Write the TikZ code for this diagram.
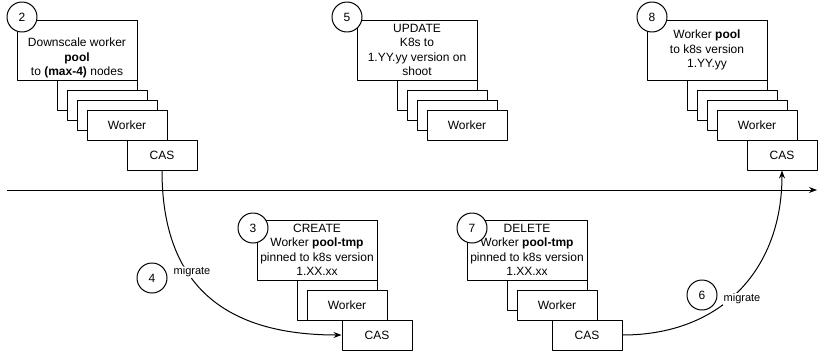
\documentclass[tikz,border=0pt]{standalone}
\usepackage{fontspec}
\setmainfont{Liberation Sans}
\usetikzlibrary{arrows.meta}
\begin{document}
\begin{tikzpicture}[x=1pt, y=-1pt, line width=1pt, line join=round,
    font=\fontsize{12}{14.5}\selectfont, >={Stealth[length=8pt,width=6pt]},
    mainbox/.style={draw, fill=white, minimum width=120pt, minimum height=60pt, align=center, inner sep=0pt},
    stackbox/.style={draw, fill=white, minimum width=80pt, minimum height=30pt, inner sep=0pt},
    casbox/.style={stackbox, minimum width=70pt},
    stepnum/.style={draw, circle, fill=white, minimum size=30pt, inner sep=0pt},
    edgelabel/.style={fill=white, inner sep=1pt, font=\fontsize{11}{13}\selectfont}]
  \useasboundingbox (0,0) rectangle (826,351);
  \path (7,190) coordinate (t0)
        (817,190) coordinate (t1);
  % timeline
  \draw[->] (t0) -- (t1);
  % top row: downscale, update, final pool
  \node[mainbox] (main2) at (77,50) {};
  \node[align=center, inner sep=0pt] (main2txt) at (77,58) {Downscale worker\\\textbf{pool}\\to \textbf{(max-4)} nodes};
  \node[mainbox] (main5) at (417,50) {UPDATE\\K8s to\\1.YY.yy version on\\shoot};
  \node[mainbox] (main8) at (707,50) {Worker \textbf{pool}\\to k8s version\\1.YY.yy};
  \foreach \g/\dx in {2/0, 5/340, 8/630} {
    \foreach \i in {0,1,2}
      \node[stackbox] (s\g-\i) at (97+\dx+10*\i, 95+10*\i) {};
    \node[stackbox] (worker\g) at (127+\dx, 125) {Worker};
  }
  \node[casbox] (cas2) at (162,155) {CAS};
  \node[casbox] (cas8) at (782,155) {CAS};
  % bottom row: temporary pool
  \node[mainbox] (main3) at (317,250) {CREATE\\Worker \textbf{pool-tmp}\\pinned to k8s version\\1.XX.xx};
  \node[stackbox, minimum height=40pt] (s3) at (337,300) {};
  \node[stackbox] (worker3) at (347,305) {Worker};
  \node[casbox] (cas3) at (377,335) {CAS};
  \node[mainbox] (main7) at (527,250) {DELETE\\Worker \textbf{pool-tmp}\\pinned to k8s version\\1.XX.xx};
  \node[stackbox] (s7) at (547,295) {};
  \node[stackbox] (worker7) at (557,305) {Worker};
  \node[casbox] (cas7) at (587,335) {CAS};
  % migrations
  \draw[->] (cas2.south) .. controls +(0,100) and +(-132,0) .. (cas3.west);
  \draw[->] (cas7.east) .. controls +(98,0) and +(0,100) .. (cas8.south);
  \node[edgelabel] (mig4) at (192,272) {migrate};
  \node[edgelabel] (mig6) at (742,299) {migrate};
  % step numbers
  \foreach \n/\p in {2/{(22,17)}, 5/{(347,17)}, 8/{(652,17)}, 3/{(253,228)}, 7/{(472,228)}, 4/{(152,278)}, 6/{(702,295)}}
    \node[stepnum] (step\n) at \p {\n};
\end{tikzpicture}
\end{document}
